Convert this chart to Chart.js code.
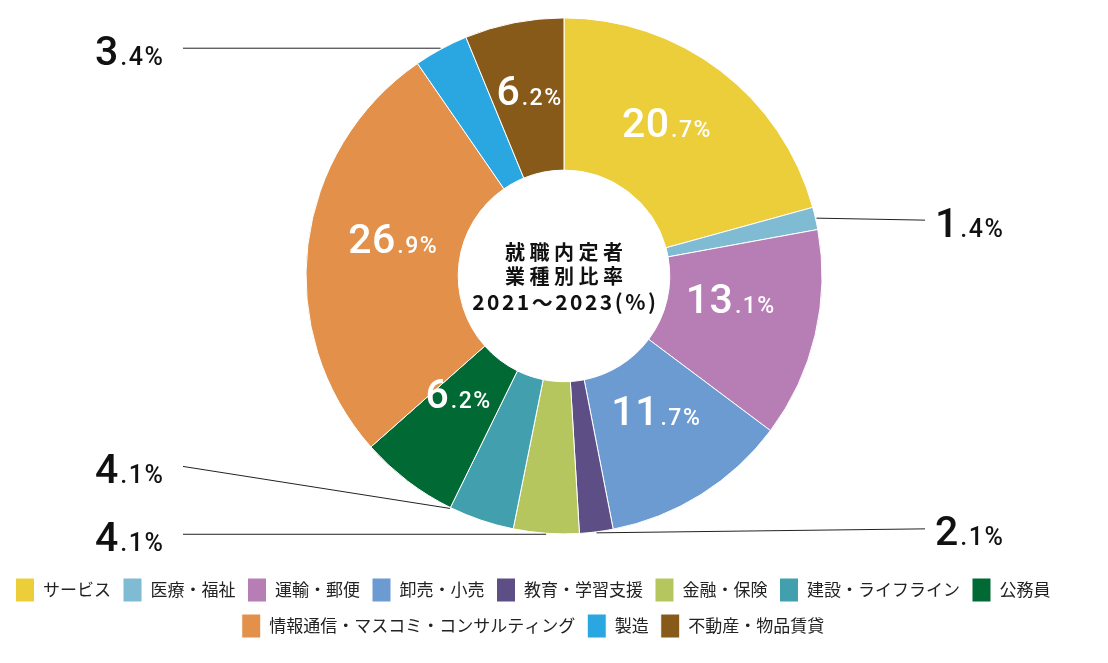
<!doctype html>
<html>
<head>
<meta charset="utf-8">
<title>就職内定者 業種別比率</title>
<script src="https://cdn.jsdelivr.net/npm/chart.js@4.4.0/dist/chart.umd.min.js"></script>
<style>
  html, body { margin: 0; padding: 0; background: #fff; }
  #wrap { width: 1108px; height: 663px; position: relative; }
</style>
</head>
<body>
<div id="wrap"><canvas id="pie"></canvas></div>
<script>
// data
var categories = ['サービス', '医療・福祉', '運輸・郵便', '卸売・小売', '教育・学習支援', '金融・保険',
                  '建設・ライフライン', '公務員', '情報通信・マスコミ・コンサルティング', '製造', '不動産・物品賃貸'];
var shares = [20.7, 1.4, 13.1, 11.7, 2.1, 4.1, 4.1, 6.2, 26.9, 3.4, 6.2];
var colors = ['#ECCE3A', '#7FBBD3', '#B77DB5', '#6B9BD1', '#5D4E86', '#B6C65E',
              '#42A0AE', '#006934', '#E2904A', '#2AA7E0', '#875A1A'];
var centerLines = ['就職内定者', '業種別比率', '2021～2023(%)'];

// where each percentage is written: inside the ring, or outside with a leader line
var labelPlace = [
  {pos: 'in', dx: -8, dy: -9},
  {pos: 'right', dy: 4},
  {pos: 'in', dx: -11, dy: -19},
  {pos: 'in', dx: -5, dy: -20},
  {pos: 'right', dy: -2},
  {pos: 'left', dy: 2},
  {pos: 'left', dy: -40, at: 1},
  {pos: 'in', dx: 4, dy: -27},
  {pos: 'in', dx: 9, dy: -15},
  {pos: 'left', dy: 2},
  {pos: 'in', dx: 0, dy: -7}
];

var numFont = 'Roboto, "Liberation Sans", Arial, sans-serif';
var jpFont = '"Noto Sans CJK JP", "Noto Sans", sans-serif';

function spacedWidth(ctx, text, sp) {
  var chars = Array.from(text), w = 0;
  chars.forEach(function (c) { w += ctx.measureText(c).width; });
  return w + sp * (chars.length - 1);
}
function drawSpaced(ctx, text, x, y, sp) {
  Array.from(text).forEach(function (c) {
    ctx.fillText(c, x, y);
    x += ctx.measureText(c).width + sp;
  });
}

// "20.7" -> big "20" + small ".7%", cy is the vertical middle of the digits
function drawValue(ctx, v, x, cy, align, color, smallSize) {
  var s = v.toFixed(1), k = s.indexOf('.');
  var big = s.slice(0, k), small = s.slice(k) + '%';
  var bigF = '500 41px ' + numFont, smallF = '500 ' + smallSize + 'px ' + numFont;
  ctx.font = bigF;
  var wb = spacedWidth(ctx, big, 0.5);
  ctx.font = smallF;
  var ws = spacedWidth(ctx, small, 1.5);
  var gap = 2, total = wb + gap + ws;
  var left = align === 'center' ? x - total / 2 : x;
  var base = cy + 14.5;
  ctx.fillStyle = color;
  ctx.textAlign = 'left';
  ctx.textBaseline = 'alphabetic';
  ctx.font = bigF;
  drawSpaced(ctx, big, left, base, 0.5);
  ctx.font = smallF;
  drawSpaced(ctx, small, left + wb + gap, base, 1.5);
}

var sliceLabels = {
  id: 'sliceLabels',
  afterDatasetsDraw: function (chart, args, opts) {
    var ctx = chart.ctx;
    var meta = chart.getDatasetMeta(0);
    ctx.save();
    meta.data.forEach(function (arc, i) {
      var p = arc.getProps(['x', 'y', 'startAngle', 'endAngle', 'innerRadius', 'outerRadius'], true);
      var pl = labelPlace[i];
      if (pl.pos === 'in') {
        var a = (p.startAngle + p.endAngle) / 2;
        var r = (p.innerRadius + p.outerRadius) / 2;
        drawValue(ctx, shares[i], p.x + r * Math.cos(a) + pl.dx, p.y + r * Math.sin(a) + pl.dy,
                  'center', '#fff', 23);
      } else {
        var at = pl.at === undefined ? 0.5 : pl.at;
        var a2 = p.startAngle + (p.endAngle - p.startAngle) * at;
        var ax = p.x + (p.outerRadius + 1) * Math.cos(a2);
        var ay = p.y + (p.outerRadius + 1) * Math.sin(a2);
        var ty = ay + pl.dy;
        var lx = pl.pos === 'left' ? opts.leftLineX : opts.rightLineX;
        ctx.strokeStyle = '#222';
        ctx.lineWidth = 1;
        ctx.beginPath();
        ctx.moveTo(ax, ay);
        ctx.lineTo(lx, ty - 2);
        ctx.stroke();
        drawValue(ctx, shares[i], pl.pos === 'left' ? opts.leftTextX : opts.rightTextX, ty,
                  'left', '#111', 25);
      }
    });
    // centre caption
    var c = meta.data[0];
    ctx.fillStyle = '#111';
    ctx.textBaseline = 'alphabetic';
    ctx.font = 'bold 20px ' + jpFont;
    [0, 1].forEach(function (k) {
      var w = spacedWidth(ctx, centerLines[k], 4.5);
      drawSpaced(ctx, centerLines[k], c.x - w / 2, c.y - 16 + k * 24, 4.5);
    });
    ctx.font = 'bold 21px ' + jpFont;
    var w3 = spacedWidth(ctx, centerLines[2], 2.5);
    drawSpaced(ctx, centerLines[2], c.x - w3 / 2, c.y + 34, 2.5);
    ctx.restore();
  }
};

var ctx = document.getElementById('pie').getContext('2d');
var chart = new Chart(ctx, {
  type: 'doughnut',
  data: {
    labels: categories,
    datasets: [{
      data: shares,
      backgroundColor: colors,
      borderColor: '#fff',
      borderWidth: 1,
      radius: 258,
      cutout: '41%'
    }]
  },
  options: {
    responsive: true,
    maintainAspectRatio: false,
    animation: false,
    // right padding pulls the legend left; the empty left title pushes the ring back right
    layout: { padding: { top: 0, bottom: 15, left: 0, right: 42 } },
    plugins: {
      title: { display: true, position: 'left', text: '', fullSize: false,
               font: { size: 10 }, padding: { top: 50, bottom: 0 } },
      legend: {
        position: 'bottom',
        title: { display: true, text: '', font: { size: 1 }, padding: { top: 13, bottom: 0 } },
        labels: {
          boxWidth: 19,
          boxHeight: 24,
          padding: 12,
          color: '#222',
          font: { family: jpFont, size: 17 }
        }
      },
      tooltip: { enabled: false },
      sliceLabels: { leftLineX: 183, rightLineX: 925, leftTextX: 95, rightTextX: 935 }
    }
  },
  plugins: [sliceLabels]
});
</script>
</body>
</html>
